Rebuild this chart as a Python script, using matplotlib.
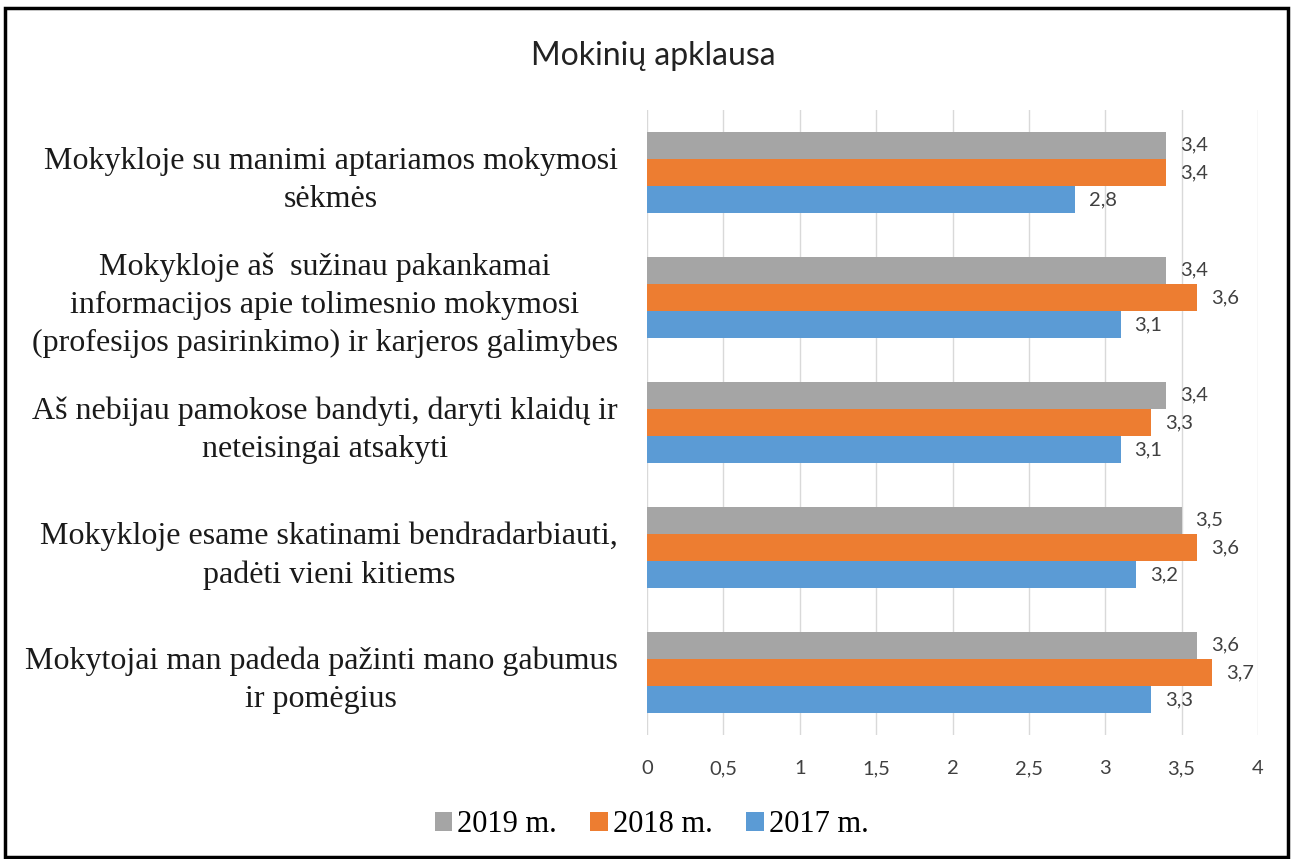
import matplotlib
matplotlib.use("Agg")
import matplotlib.pyplot as plt
from matplotlib.patches import Rectangle
import numpy as np

categories = [
    "Mokykloje su manimi aptariamos mokymosi\nsėkmės",
    "Mokykloje aš  sužinau pakankamai\ninformacijos apie tolimesnio mokymosi\n(profesijos pasirinkimo) ir karjeros galimybes",
    "Aš nebijau pamokose bandyti, daryti klaidų ir\nneteisingai atsakyti",
    "Mokykloje esame skatinami bendradarbiauti,\npadėti vieni kitiems",
    "Mokytojai man padeda pažinti mano gabumus\nir pomėgius",
]
series_names = ["2019 m.", "2018 m.", "2017 m."]
values_2019 = [3.4, 3.4, 3.4, 3.5, 3.6]
values_2018 = [3.4, 3.6, 3.3, 3.6, 3.7]
values_2017 = [2.8, 3.1, 3.1, 3.2, 3.3]
xticks = [0, 0.5, 1, 1.5, 2, 2.5, 3, 3.5, 4]
xtick_labels = ["0", "0,5", "1", "1,5", "2", "2,5", "3", "3,5", "4"]

colors = ["#A5A5A5", "#ED7D31", "#5B9BD5"]
serif = ["Liberation Serif", "DejaVu Serif"]
sans = ["Lato", "DejaVu Sans"]

fig = plt.figure(figsize=(12.93, 8.59), dpi=100)
W, H = 1293, 859
ax = fig.add_axes([647 / W, 1 - 735 / H, (1258 - 647) / W, (735 - 110) / H])

y = np.arange(len(categories))
bh = 0.215
offsets = [-0.218, 0.0, 0.218]
all_vals = [values_2019, values_2018, values_2017]
for vals, off, c, name in zip(all_vals, offsets, colors, series_names):
    bars = ax.barh(y + off, vals, height=bh, color=c, label=name, zorder=3)
    ax.bar_label(bars, labels=[f"{v:.1f}".replace(".", ",") for v in vals],
                 padding=10, fontsize=14.5, family=sans, color="#404040")

ax.set_ylim(len(categories) - 0.5, -0.5)
ax.set_xlim(0, 4)
ax.set_xticks(xticks)
ax.set_xticklabels(xtick_labels, family=sans, fontsize=14.5, color="#404040")
ax.set_yticks(y)
ax.set_yticklabels(categories, family=serif, fontsize=23, color="#1a1a1a",
                   ha="right", multialignment="center", linespacing=1.4)
ax.tick_params(axis="y", length=0, pad=21)
ax.tick_params(axis="x", length=0, pad=18)
ax.grid(axis="x", color="#D9D9D9", linewidth=1, zorder=0)
for s in ax.spines.values():
    s.set_visible(False)

fig.text(0.505, 1 - 56 / H, "Mokinių apklausa", ha="center", va="center",
         family=sans, fontsize=23, color="#222222")

handles, labels = ax.get_legend_handles_labels()
leg = fig.legend(handles, labels, loc="center", bbox_to_anchor=(0.504, 1 - 825 / H),
                 ncol=3, frameon=False, prop={"family": serif, "size": 22},
                 handlelength=0.56, handleheight=0.56, handletextpad=0.18, columnspacing=1.1)

fig.patches.append(Rectangle((5 / W, 2 / H), (1288 - 5) / W, (851 - 2) / H,
                             transform=fig.transFigure, fill=False,
                             edgecolor="black", linewidth=2.5))

fig.savefig("out.png", dpi=100, facecolor="white")
